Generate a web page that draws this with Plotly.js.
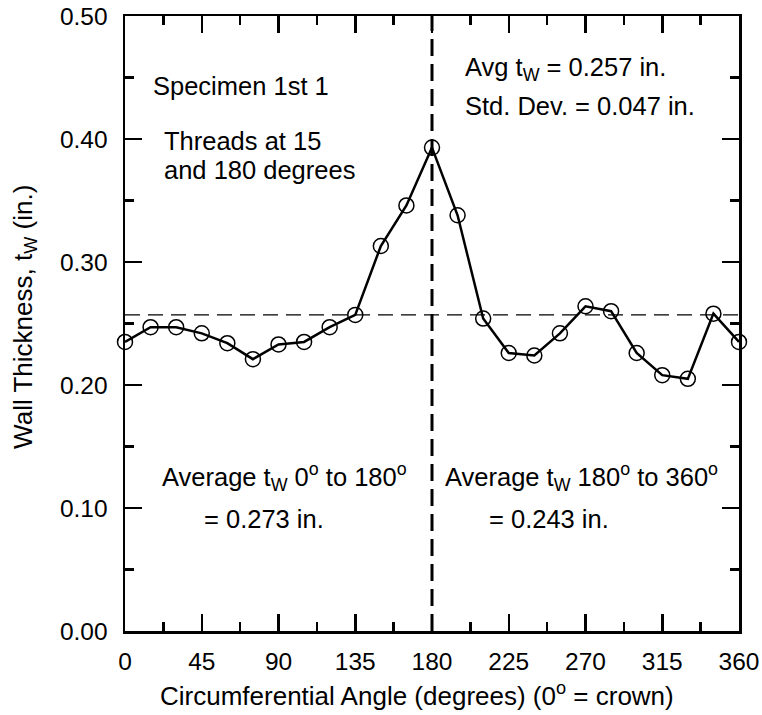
<!DOCTYPE html>
<html>
<head>
<meta charset="utf-8">
<script src="https://cdn.plot.ly/plotly-3.0.1.min.js"></script>
<style>html,body{margin:0;padding:0;background:#fff;}#chart{width:762px;height:715px;}</style>
</head>
<body>
<div id="chart"></div>
<script>
// Data
const angles = [0, 15, 30, 45, 60, 75, 90, 105, 120, 135, 150, 165, 180,
                195, 210, 225, 240, 255, 270, 285, 300, 315, 330, 345, 360];
const thickness = [0.235, 0.247, 0.247, 0.242, 0.234, 0.221, 0.233, 0.235, 0.247, 0.257, 0.313, 0.346, 0.393,
                   0.338, 0.254, 0.226, 0.224, 0.242, 0.264, 0.260, 0.226, 0.208, 0.205, 0.258, 0.235];
const avgThickness = 0.257;
const splitAngle = 180;
const xRange = [0, 360];
const yRange = [0, 0.5];
const xTickVals = [0, 45, 90, 135, 180, 225, 270, 315, 360];
const yTickVals = [0, 0.1, 0.2, 0.3, 0.4, 0.5];
const xTitle = 'Circumferential Angle (degrees) (0<sup>o</sup> = crown)';
const yTitle = 'Wall Thickness, t<sub>W</sub> (in.)';

const FONT = '"Liberation Sans", Arial, Helvetica, sans-serif';

const traces = [
  {
    x: xRange, y: [avgThickness, avgThickness],
    mode: 'lines', line: {color: '#000', width: 1.2, dash: '15px,8px'},
    hoverinfo: 'skip', showlegend: false
  },
  {
    x: [splitAngle, splitAngle], y: yRange,
    mode: 'lines', line: {color: '#000', width: 3, dash: '17px,8px'},
    hoverinfo: 'skip', showlegend: false
  },
  {
    x: angles, y: thickness,
    mode: 'lines+markers',
    line: {color: '#000', width: 2.5},
    marker: {symbol: 'circle-open', size: 15, color: '#000', line: {width: 1.5, color: '#000'}},
    cliponaxis: false, showlegend: false
  }
];

const annFont = {family: FONT, size: 25.5, color: '#000'};
function ann(x, y, text) {
  return {x: x, y: y, xref: 'x', yref: 'y', text: text, showarrow: false,
          xanchor: 'left', yanchor: 'middle', align: 'left', font: annFont};
}
const tickFont = {family: FONT, size: 24.5, color: '#000'};
const titleFont = {family: FONT, size: 26, color: '#000'};

const layout = {
  width: 762, height: 715,
  margin: {l: 125, r: 23, t: 16, b: 84},
  paper_bgcolor: '#fff', plot_bgcolor: '#fff',
  font: {family: FONT, size: 24, color: '#000'},
  showlegend: false,
  xaxis: {
    range: xRange, tickvals: xTickVals, ticks: 'inside', ticklen: 17, tickwidth: 2.5,
    tickcolor: '#000', showline: true, linewidth: 2.5, linecolor: '#000', mirror: 'allticks',
    showgrid: false, zeroline: false, ticklabelstandoff: 7,
    minor: {dtick: 22.5, ticks: 'inside', ticklen: 9, tickwidth: 2.5, tickcolor: '#000', showgrid: false},
    tickfont: tickFont
  },
  yaxis: {
    range: yRange, tickvals: yTickVals, tickformat: '.2f', ticks: 'inside', ticklen: 17, tickwidth: 2.5,
    tickcolor: '#000', showline: true, linewidth: 2.5, linecolor: '#000', mirror: 'allticks',
    showgrid: false, zeroline: false, ticklabelstandoff: 10,
    minor: {dtick: 0.05, ticks: 'inside', ticklen: 9, tickwidth: 2.5, tickcolor: '#000', showgrid: false},
    tickfont: tickFont
  },
  annotations: [
    {x: 0.4756, y: -0.104, xref: 'paper', yref: 'paper', text: xTitle, showarrow: false,
     xanchor: 'center', yanchor: 'middle', font: titleFont},
    {x: -0.163, y: 0.5106, xref: 'paper', yref: 'paper', text: yTitle, showarrow: false,
     xanchor: 'center', yanchor: 'middle', textangle: -90, font: titleFont},
    ann(15.2, 0.443, 'Specimen 1st 1'),
    ann(21.7, 0.3984, 'Threads at 15'),
    ann(21.7, 0.3748, 'and 180 degrees'),
    ann(198, 0.457, 'Avg t<sub>W</sub> = 0.257 in.'),
    ann(198, 0.427, 'Std. Dev. = 0.047 in.'),
    ann(20.5, 0.1254, 'Average t<sub>W</sub> 0<sup>o</sup> to 180<sup>o</sup>'),
    ann(45.1, 0.091, '= 0.273 in.'),
    ann(186.4, 0.1254, 'Average t<sub>W</sub> 180<sup>o</sup> to 360<sup>o</sup>'),
    ann(212.2, 0.091, '= 0.243 in.')
  ]
};

Plotly.newPlot('chart', traces, layout, {staticPlot: true, displayModeBar: false});
</script>
</body>
</html>
